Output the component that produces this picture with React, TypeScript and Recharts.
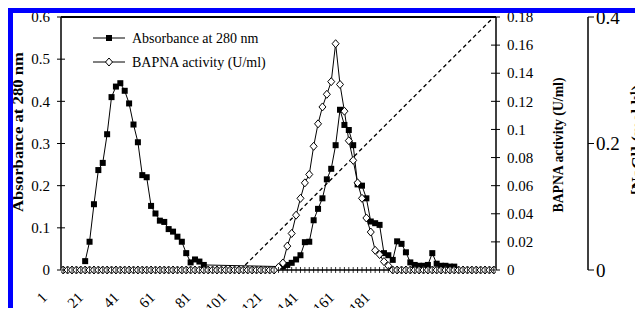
import React from 'react';
import { LineChart, Line, XAxis, YAxis, ReferenceLine, Legend } from 'recharts';

const FONT = '"Liberation Serif", "Times New Roman", Times, serif';

// one entry per collected point along the run (null = not plotted)
const absorbance: (number | null)[] = [
  null, null, null, null, null, 0.021, 0.067, 0.156, 0.237, 0.254,
  0.322, 0.41, 0.435, 0.443, 0.425, 0.395, 0.345, 0.303, 0.225, 0.22,
  0.152, 0.134, 0.117, 0.114, 0.097, 0.091, 0.079, 0.067, 0.04, 0.018,
  0.025, 0.02, 0.012, null, null, null, null, null, null, null,
  null, null, null, null, null, null, null, null, null, null,
  0.008, 0.012, 0.017, 0.025, 0.035, 0.066, 0.067, 0.118, 0.145, 0.17,
  0.215, 0.24, 0.296, 0.38, 0.344, 0.332, 0.296, 0.203, 0.2, 0.17,
  0.115, 0.111, 0.107, 0.04, 0.035, 0.024, 0.068, 0.062, 0.042, 0.018,
  0.012, 0.01, 0.01, 0.012, 0.04, 0.015, 0.01, 0.01, 0.008, 0.008,
  null, null, null, null, null, null, null, null, null,
];

const bapna: number[] = [
  0, 0, 0, 0, 0, 0, 0, 0, 0, 0,
  0, 0, 0, 0, 0, 0, 0, 0, 0, 0,
  0, 0, 0, 0, 0, 0, 0, 0, 0, 0,
  0, 0, 0, 0, 0, 0, 0, 0, 0, 0,
  0, 0, 0, 0, 0, 0, 0, 0, 0, 0.002,
  0.005, 0.017, 0.026, 0.039, 0.051, 0.062, 0.068, 0.088, 0.104, 0.116,
  0.125, 0.134, 0.161, 0.132, 0.113, 0.092, 0.078, 0.062, 0.051, 0.037,
  0.027, 0.014, 0.011, 0.006, 0.003, 0, 0, 0, 0, 0,
  0, 0, 0, 0, 0, 0, 0, 0, 0, 0,
  0, 0, 0, 0, 0, 0, 0, 0, 0,
];

// NaCl gradient: start and end of the linear ramp
const gradientPoint = [40.3, 98];
const gradientNaCl = [0, 0.4];

const fractionLabels = [1, 21, 41, 61, 81, 101, 121, 141, 161, 181];
const absTicks = [0, 0.1, 0.2, 0.3, 0.4, 0.5, 0.6];
const bapnaTicks = [0, 0.02, 0.04, 0.06, 0.08, 0.1, 0.12, 0.14, 0.16, 0.18];
const naclTicks = [0, 0.2, 0.4];

// fraction number -> position on the point axis
const fractionToPoint = (f: number) => 3.05 + (f - 21) * 0.408;
const pointToFraction = (p: number) => Math.round(21 + (p - 3.05) / 0.408);

const rows = absorbance.map((a, i) => ({ point: i, abs: a, bapna: bapna[i] }));
const naclRows = gradientPoint.map((p, i) => ({ point: p, nacl: gradientNaCl[i] }));

// small marks at every point plus the labelled fraction numbers
const xTicks = [...rows.map((r) => r.point), ...fractionLabels.map(fractionToPoint)];

const SquareDot = (props: any) => {
  const { cx, cy, index, value } = props;
  if (value == null || cx == null || cy == null) return <g key={`sq-${index}`} />;
  return <rect key={`sq-${index}`} x={cx - 3} y={cy - 3} width={6} height={6} fill="#000" />;
};

const DiamondDot = (props: any) => {
  const { cx, cy, index } = props;
  if (cx == null || cy == null) return <g key={`dm-${index}`} />;
  return (
    <path
      key={`dm-${index}`}
      d={`M${cx},${cy - 4}L${cx + 3.5},${cy}L${cx},${cy + 4}L${cx - 3.5},${cy}Z`}
      fill="#fff"
      stroke="#000"
      strokeWidth={1}
    />
  );
};

const LeftTick = ({ x, y, payload }: any) => (
  <g>
    <line x1={x - 4} x2={x + 4} y1={y} y2={y} stroke="#000" />
    <text x={x - 11} y={y} dy="0.35em" textAnchor="end" fontSize={15} fontFamily={FONT} fill="#000">
      {String(payload.value)}
    </text>
  </g>
);

const RightTick = ({ x, y, payload }: any) => (
  <g>
    <line x1={x - 5} x2={x + 4} y1={y} y2={y} stroke="#000" />
    <text x={x + 11} y={y} dy="0.35em" textAnchor="start" fontSize={15} fontFamily={FONT} fill="#000">
      {String(payload.value)}
    </text>
  </g>
);

const NaclTick = ({ x, y, payload }: any) => (
  <g>
    <line x1={x} x2={x + 6} y1={y} y2={y} stroke="#000" />
    <text x={x + 8} y={y} dy="0.35em" textAnchor="start" fontSize={19} fontFamily={FONT} fill="#000">
      {String(payload.value)}
    </text>
  </g>
);

const FractionTick = ({ x, y, payload }: any) => {
  if (Number.isInteger(payload.value)) {
    return <line x1={x} x2={x} y1={y - 3} y2={y + 3} stroke="#000" strokeWidth={0.8} />;
  }
  const ty = y + 21;
  return (
    <text
      x={x}
      y={ty}
      dy="0.7em"
      textAnchor="end"
      transform={`rotate(-45, ${x}, ${ty})`}
      fontSize={15}
      fontFamily={FONT}
      fill="#000"
    >
      {pointToFraction(payload.value)}
    </text>
  );
};

const vTitle = (text: string, dx: number, dy: number, size: number, len?: number) => (props: any) => {
  const vb = props.viewBox;
  const cx = vb.x + dx;
  const cy = vb.y + dy;
  return (
    <text
      x={cx}
      y={cy}
      dy="0.35em"
      textAnchor="middle"
      transform={`rotate(-90, ${cx}, ${cy})`}
      fontSize={size}
      fontWeight="bold"
      fontFamily={FONT}
      fill="#000"
      textLength={len}
      lengthAdjust={len ? 'spacingAndGlyphs' : undefined}
    >
      {text}
    </text>
  );
};

const naclTitle = (props: any) => {
  const vb = props.viewBox;
  const cx = vb.x + 49;
  const cy = vb.y + 123;
  return (
    <text
      x={cx}
      y={cy}
      dy="0.35em"
      textAnchor="middle"
      transform={`rotate(-90, ${cx}, ${cy})`}
      fontSize={17}
      fontWeight="bold"
      fontFamily={FONT}
      fill="#000"
    >
      [NaCl] (mol l<tspan dy={-6} fontSize={11}>-1</tspan>
      <tspan dy={6}>)</tspan>
    </text>
  );
};

const fractionTitle = (props: any) => {
  const vb = props.viewBox;
  return (
    <text x={vb.x + 166} y={vb.y + 66} textAnchor="middle" fontSize={14} fontWeight="bold" fontFamily={FONT} fill="#000">
      Fraction number
    </text>
  );
};

const renderLegend = () => (
  <svg width={200} height={44} style={{ display: 'block' }}>
    <line x1={1} x2={33} y1={9} y2={9} stroke="#000" />
    <rect x={14} y={6} width={6} height={6} fill="#000" />
    <text x={40} y={9} dy="0.35em" fontSize={14} fontFamily={FONT} fill="#000">Absorbance at 280 nm</text>
    <line x1={1} x2={33} y1={33} y2={33} stroke="#000" />
    <path d="M17,29L20.5,33L17,37L13.5,33Z" fill="#fff" stroke="#000" />
    <text x={40} y={33} dy="0.35em" fontSize={14} fontFamily={FONT} fill="#000">BAPNA activity (U/ml)</text>
  </svg>
);

export default function App() {
  return (
    <div style={{ position: 'relative', width: 635, height: 300 }}>
      <div style={{ position: 'absolute', left: -8, top: -8 }}>
        <LineChart width={643} height={332} data={rows} margin={{ top: 17, right: 0, bottom: 0, left: 0 }}>
          <XAxis
            xAxisId="x"
            type="number"
            dataKey="point"
            domain={[-0.5, 98.5]}
            allowDataOverflow
            ticks={xTicks}
            interval={0}
            tick={<FractionTick />}
            tickSize={0}
            tickMargin={0}
            tickLine={false}
            axisLine={{ stroke: '#000', strokeWidth: 1.5 }}
            height={62}
            label={fractionTitle}
          />
          <YAxis
            yAxisId="abs"
            orientation="left"
            domain={[0, 0.6]}
            ticks={absTicks}
            interval={0}
            width={61}
            tick={<LeftTick />}
            tickSize={0}
            tickMargin={0}
            tickLine={false}
            axisLine={{ stroke: '#000', strokeWidth: 1.5 }}
            label={vTitle('Absorbance at 280 nm', 18, 115, 14, 160)}
          />
          <YAxis
            yAxisId="bapna"
            orientation="right"
            domain={[0, 0.18]}
            ticks={bapnaTicks}
            interval={0}
            width={92}
            tick={<RightTick />}
            tickSize={0}
            tickMargin={0}
            tickLine={false}
            axisLine={{ stroke: '#000', strokeWidth: 1.5 }}
            label={vTitle('BAPNA activity (U/ml)', 62, 128, 14, 135)}
          />
          <YAxis
            yAxisId="nacl"
            orientation="right"
            domain={[0, 0.4]}
            ticks={naclTicks}
            interval={0}
            width={55}
            tick={<NaclTick />}
            tickSize={0}
            tickMargin={0}
            tickLine={false}
            axisLine={{ stroke: '#000', strokeWidth: 1.5 }}
            label={naclTitle}
          />
          <ReferenceLine xAxisId="x" yAxisId="abs" y={0.6} stroke="#000" strokeWidth={2} />
          <Legend
            content={renderLegend}
            layout="vertical"
            align="center"
            verticalAlign="middle"
            wrapperStyle={{ position: 'absolute', left: 92, top: 29, width: 200, height: 44 }}
          />
          <Line
            xAxisId="x"
            yAxisId="nacl"
            data={naclRows}
            dataKey="nacl"
            stroke="#000"
            strokeWidth={1.3}
            strokeDasharray="4 3"
            dot={false}
            activeDot={false}
            isAnimationActive={false}
          />
          <Line
            xAxisId="x"
            yAxisId="abs"
            dataKey="abs"
            stroke="#000"
            strokeWidth={1}
            connectNulls
            dot={SquareDot}
            activeDot={false}
            isAnimationActive={false}
          />
          <Line
            xAxisId="x"
            yAxisId="bapna"
            dataKey="bapna"
            stroke="#000"
            strokeWidth={1}
            dot={DiamondDot}
            activeDot={false}
            isAnimationActive={false}
          />
        </LineChart>
      </div>
      <div style={{ position: 'absolute', left: 0, top: 0, width: 635, height: 5, background: '#0000ff' }} />
      <div style={{ position: 'absolute', left: 0, top: 0, width: 5, height: 324, background: '#0000ff' }} />
    </div>
  );
}
